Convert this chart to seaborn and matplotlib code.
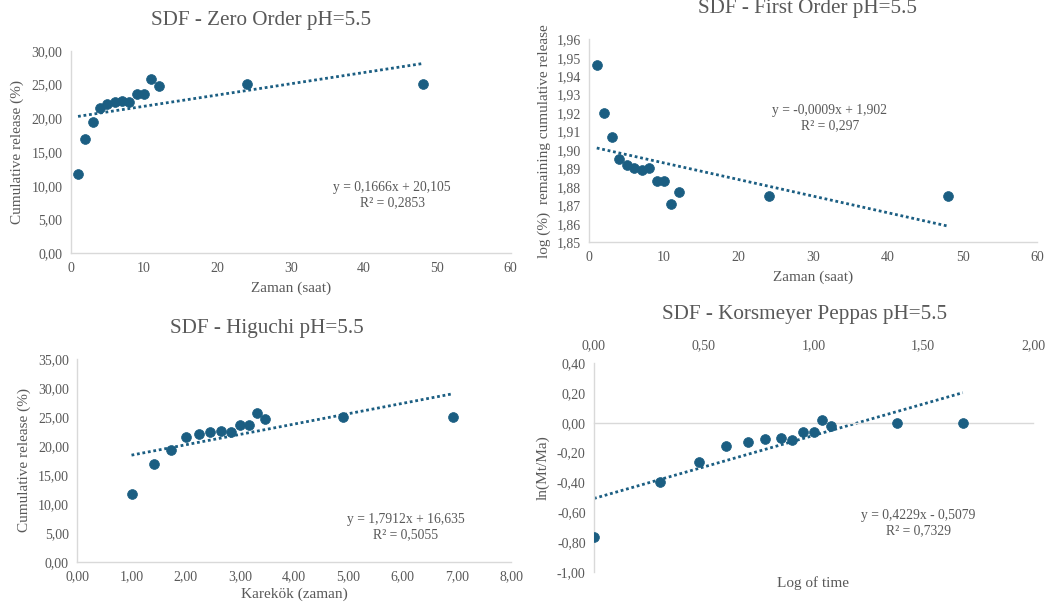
import numpy as np
import pandas as pd
import matplotlib
matplotlib.use("Agg")
import matplotlib.pyplot as plt
import seaborn as sns
from matplotlib.ticker import FuncFormatter

# ---------------- data ----------------
time_h = [1, 2, 3, 4, 5, 6, 7, 8, 9, 10, 11, 12, 24, 48]
cum_release = [11.7, 16.9, 19.4, 21.5, 22.1, 22.4, 22.6, 22.4, 23.6, 23.6, 25.8, 24.7, 25.1, 25.1]
log_remaining = [1.946, 1.920, 1.907, 1.895, 1.892, 1.890, 1.889, 1.890, 1.883, 1.883, 1.871, 1.877, 1.875, 1.875]
sqrt_time = [1.00, 1.41, 1.73, 2.00, 2.24, 2.45, 2.65, 2.83, 3.00, 3.16, 3.32, 3.46, 4.90, 6.93]
log_time = [0.00, 0.30, 0.48, 0.60, 0.70, 0.78, 0.85, 0.90, 0.95, 1.00, 1.04, 1.08, 1.38, 1.68]
ln_mt_ma = [-0.77, -0.40, -0.26, -0.155, -0.13, -0.11, -0.105, -0.115, -0.06, -0.06, 0.02, -0.02, 0.00, 0.00]

# trendline coefficients (slope, intercept) as shown on chart
trend_zero = (0.1666, 20.105)
trend_first = (-0.0009, 1.902)
trend_higuchi = (1.7912, 16.635)
trend_kp = (0.4229, -0.5079)

titles = ["SDF - Zero Order pH=5.5", "SDF - First Order pH=5.5",
          "SDF - Higuchi pH=5.5", "SDF - Korsmeyer Peppas pH=5.5"]
eq_texts = ["y = 0,1666x + 20,105\nR² = 0,2853",
            "y = -0,0009x + 1,902\nR² = 0,297",
            "y = 1,7912x + 16,635\nR² = 0,5055",
            "y = 0,4229x - 0,5079\nR² = 0,7329"]

# ---------------- style ----------------
sns.set_style("white")
plt.rcParams["font.family"] = ["Liberation Serif", "DejaVu Serif"]
TXT = "#595959"
AX = "#D9D9D9"
MK = "#1B5E82"
TITLE_FS = 15.2
LABEL_FS = 11
TICK_FS = 10
EQ_FS = 9.8

W, H = 1059, 610
fig = plt.figure(figsize=(W / 100, H / 100), dpi=100)


def add_ax(left, top, right, bottom):
    return fig.add_axes([left / W, 1 - bottom / H, (right - left) / W, (bottom - top) / H])


def comma_fmt(dec):
    def f(v, p):
        s = f"{v:.{dec}f}"
        if float(s) == 0:
            s = f"{0:.{dec}f}"
        return s.replace(".", ",")
    return FuncFormatter(f)


def style(ax):
    for s in ["top", "right"]:
        ax.spines[s].set_visible(False)
    for s in ["left", "bottom"]:
        ax.spines[s].set_color(AX)
        ax.spines[s].set_linewidth(1.0)
    ax.tick_params(length=0, colors=TXT, labelsize=TICK_FS, pad=6)


def draw(ax, x, y, trend):
    df = pd.DataFrame({"x": x, "y": y})
    xs = np.array([min(x), max(x)])
    tl = pd.DataFrame({"x": xs, "y": trend[0] * xs + trend[1]})
    sns.lineplot(data=tl, x="x", y="y", ax=ax, color=MK, linestyle=(0, (1, 1)), linewidth=2)
    sns.scatterplot(data=df, x="x", y="y", ax=ax, color=MK, s=50, edgecolor=MK, linewidth=0.5, zorder=3)


# Panel 1: zero order
ax1 = add_ax(70.7, 50.7, 510.7, 253.3)
draw(ax1, time_h, cum_release, trend_zero)
ax1.set_xlim(0, 60); ax1.set_ylim(0, 30)
ax1.set_xticks(range(0, 61, 10)); ax1.set_yticks(np.arange(0, 30.1, 5))
ax1.yaxis.set_major_formatter(comma_fmt(2))
style(ax1)
ax1.set_xlabel("Zaman (saat)", color=TXT, fontsize=LABEL_FS, labelpad=5)
ax1.set_ylabel("Cumulative release (%)", color=TXT, fontsize=LABEL_FS, labelpad=5)
fig.text(261 / W, 1 - 21 / H, titles[0], ha="center", va="center", fontsize=TITLE_FS, color=TXT)
fig.text(392 / W, 1 - 195 / H, eq_texts[0], ha="center", va="center", fontsize=EQ_FS, color=TXT, linespacing=1.2)

# Panel 2: first order
ax2 = add_ax(589.3, 39.3, 1037.3, 242.3)
draw(ax2, time_h, log_remaining, trend_first)
ax2.set_xlim(0, 60); ax2.set_ylim(1.85, 1.96)
ax2.set_xticks(range(0, 61, 10)); ax2.set_yticks(np.round(np.arange(1.85, 1.9601, 0.01), 2))
ax2.yaxis.set_major_formatter(comma_fmt(2))
style(ax2)
ax2.set_xlabel("Zaman (saat)", color=TXT, fontsize=LABEL_FS, labelpad=5)
ax2.set_ylabel("log (%)  remaining cumulative release", color=TXT, fontsize=LABEL_FS, labelpad=4)
fig.text(808 / W, 1 - 9 / H, titles[1], ha="center", va="center", fontsize=TITLE_FS, color=TXT)
fig.text(830 / W, 1 - 118 / H, eq_texts[1], ha="center", va="center", fontsize=EQ_FS, color=TXT, linespacing=1.2)

# Panel 3: Higuchi
ax3 = add_ax(77.3, 359.3, 511, 561.7)
draw(ax3, sqrt_time, cum_release, trend_higuchi)
ax3.set_xlim(0, 8); ax3.set_ylim(0, 35)
ax3.set_xticks(np.arange(0, 8.1, 1)); ax3.set_yticks(np.arange(0, 35.1, 5))
ax3.xaxis.set_major_formatter(comma_fmt(2))
ax3.yaxis.set_major_formatter(comma_fmt(2))
style(ax3)
ax3.set_xlabel("Karekök (zaman)", color=TXT, fontsize=LABEL_FS, labelpad=3)
ax3.set_ylabel("Cumulative release (%)", color=TXT, fontsize=LABEL_FS, labelpad=5)
fig.text(267 / W, 1 - 329 / H, titles[2], ha="center", va="center", fontsize=TITLE_FS, color=TXT)
fig.text(406 / W, 1 - 527 / H, eq_texts[2], ha="center", va="center", fontsize=EQ_FS, color=TXT, linespacing=1.2)

# Panel 4: Korsmeyer-Peppas
ax4 = add_ax(594, 363.3, 1033, 571.7)
draw(ax4, log_time, ln_mt_ma, trend_kp)
ax4.set_xlim(0, 2); ax4.set_ylim(-1.0, 0.4)
ax4.set_xticks(np.arange(0, 2.01, 0.5)); ax4.set_yticks(np.round(np.arange(-1.0, 0.401, 0.2), 1))
ax4.xaxis.set_major_formatter(comma_fmt(2))
ax4.yaxis.set_major_formatter(comma_fmt(2))
style(ax4)
ax4.spines["bottom"].set_position(("data", 0))
ax4.xaxis.tick_top()
ax4.tick_params(axis="x", pad=8)
ax4.set_xlabel("")
ax4.set_ylabel("ln(Mt/Ma)", color=TXT, fontsize=LABEL_FS, labelpad=5)
fig.text(813 / W, 1 - 583 / H, "Log of time", ha="center", va="center", fontsize=LABEL_FS, color=TXT)
fig.text(805 / W, 1 - 314 / H, titles[3], ha="center", va="center", fontsize=TITLE_FS, color=TXT)
fig.text(918 / W, 1 - 523 / H, eq_texts[3], ha="center", va="center", fontsize=EQ_FS, color=TXT, linespacing=1.2)

fig.savefig("out.png", dpi=100, facecolor="white")
